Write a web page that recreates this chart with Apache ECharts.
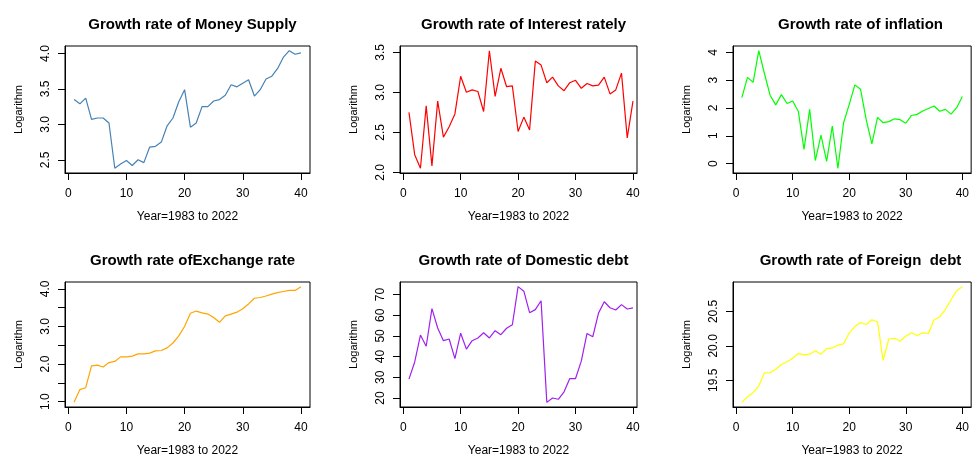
<!DOCTYPE html>
<html>
<head>
<meta charset="utf-8">
<script src="https://cdn.jsdelivr.net/npm/echarts@6/dist/echarts.min.js"></script>
<style>
  html, body { margin: 0; padding: 0; background: #fff; }
  #chart { width: 972px; height: 458px; }
</style>
</head>
<body>
<div id="chart"></div>
<script>
// Observation index (1 = 1983 ... 40 = 2022)
const years = [1,2,3,4,5,6,7,8,9,10,11,12,13,14,15,16,17,18,19,20,
               21,22,23,24,25,26,27,28,29,30,31,32,33,34,35,36,37,38,39,40];

const moneySupply = [3.35,3.29,3.37,3.07,3.09,3.09,3.02,2.38,2.44,2.49,
                     2.42,2.50,2.46,2.68,2.69,2.75,2.98,3.09,3.32,3.49,
                     2.96,3.02,3.25,3.25,3.33,3.35,3.41,3.56,3.53,3.58,
                     3.63,3.40,3.49,3.64,3.68,3.79,3.95,4.04,3.99,4.01];

const interestRate = [2.75,2.22,2.05,2.83,2.08,2.89,2.44,2.57,2.73,3.20,
                      3.00,3.03,3.01,2.76,3.52,2.95,3.30,3.07,3.08,2.51,
                      2.69,2.53,3.39,3.34,3.12,3.19,3.08,3.02,3.12,3.15,
                      3.05,3.11,3.08,3.09,3.19,2.98,3.03,3.24,2.43,2.89];

const inflation = [2.37,3.10,2.92,4.06,3.24,2.46,2.11,2.48,2.16,2.25,
                   1.87,0.51,1.95,0.11,1.02,0.08,1.35,-0.17,1.47,2.13,
                   2.83,2.67,1.58,0.71,1.66,1.47,1.51,1.61,1.58,1.45,
                   1.73,1.77,1.89,1.98,2.07,1.88,1.95,1.78,2.01,2.41];

const exchangeRate = [0.98,1.32,1.37,1.95,1.97,1.92,2.04,2.07,2.19,2.19,
                      2.21,2.27,2.27,2.29,2.35,2.36,2.43,2.56,2.75,3.00,
                      3.35,3.41,3.36,3.33,3.24,3.11,3.28,3.33,3.38,3.47,
                      3.60,3.75,3.77,3.81,3.86,3.90,3.93,3.96,3.96,4.06];

const domesticDebt = [29.1,37.4,50.4,45.0,63.2,53.8,47.7,48.5,39.0,51.3,
                      43.6,47.7,49.0,51.5,49.0,52.5,50.6,53.7,55.4,73.8,
                      71.6,61.2,62.7,67.0,17.9,20.0,19.4,23.0,29.4,29.4,
                      37.8,51.2,49.6,61.0,66.5,63.6,62.5,65.1,63.0,63.5];

const foreignDebt = [19.18,19.26,19.32,19.42,19.61,19.61,19.66,19.73,19.77,19.82,
                     19.89,19.87,19.88,19.93,19.88,19.96,19.97,20.01,20.03,20.19,
                     20.28,20.34,20.31,20.38,20.35,19.79,20.10,20.11,20.07,20.14,
                     20.19,20.15,20.19,20.18,20.38,20.42,20.53,20.67,20.80,20.86];

// Tick positions
const xTicks = [0, 10, 20, 30, 40];
const ticksMoney = [2.5, 3.0, 3.5, 4.0];
const ticksInterest = [2.0, 2.5, 3.0, 3.5];
const ticksInflation = [0, 1, 2, 3, 4];
const ticksExchange = [1.0, 1.5, 2.0, 2.5, 3.0, 3.5, 4.0];
const labelsExchange = [1.0, 2.0, 3.0, 4.0];
const ticksDomestic = [20, 30, 40, 50, 60, 70];
const ticksForeign = [19.5, 20.0, 20.5];

const titles = [
  'Growth rate of Money Supply',
  'Growth rate of Interest rately',
  'Growth rate of inflation',
  'Growth rate ofExchange rate',
  'Growth rate of Domestic debt',
  'Growth rate of Foreign  debt'
];
const xTitle = 'Year=1983 to 2022';
const yTitle = 'Logarithm';

const panels = [
  { data: moneySupply,  color: '#4682B4', ticks: ticksMoney,     labels: ticksMoney,     dec: 1, left: 65,  top: 46,  width: 245, xMax: 41.56 },
  { data: interestRate, color: '#FF0000', ticks: ticksInterest,  labels: ticksInterest,  dec: 1, left: 400, top: 46,  width: 237, xMax: 40.7 },
  { data: inflation,    color: '#00FF00', ticks: ticksInflation, labels: ticksInflation, dec: 0, left: 733, top: 46,  width: 245, xMax: 41.56 },
  { data: exchangeRate, color: '#FFA500', ticks: ticksExchange,  labels: labelsExchange, dec: 1, left: 65,  top: 282, width: 245, xMax: 41.56 },
  { data: domesticDebt, color: '#A020F0', ticks: ticksDomestic,  labels: ticksDomestic,  dec: 0, left: 400, top: 282, width: 237, xMax: 40.7 },
  { data: foreignDebt,  color: '#FFFF00', ticks: ticksForeign,   labels: ticksForeign,   dec: 1, left: 733, top: 282, width: 245, xMax: 41.56 }
];

const boxH = 127;
const textColor = '#000';
const font = 'Liberation Sans, Arial, Helvetica, sans-serif';

const grid = [], xAxis = [], yAxis = [], series = [], title = [];

panels.forEach((p, i) => {
  // y range padded by 4% on each side, as base graphics does
  const lo = Math.min(...p.data), hi = Math.max(...p.data);
  const pad = (hi - lo) * 0.04;

  grid.push({
    left: p.left, top: p.top, width: p.width, height: boxH,
    show: true, borderColor: '#000', borderWidth: 1, backgroundColor: 'transparent'
  });

  title.push({
    text: titles[i],
    left: p.left + p.width / 2,
    top: p.top - 34,
    textAlign: 'center',
    textStyle: { fontFamily: font, fontSize: 15, fontWeight: 'bold', color: textColor }
  });

  xAxis.push({
    type: 'value', gridIndex: i, min: -0.56, max: p.xMax,
    name: xTitle, nameLocation: 'middle', nameGap: 38,
    nameTextStyle: { fontFamily: font, fontSize: 12, color: textColor },
    axisLine: { show: true, onZero: false, lineStyle: { color: '#000', width: 1 } },
    axisTick: { show: true, length: 7, customValues: xTicks, lineStyle: { color: '#000' } },
    axisLabel: { customValues: xTicks, margin: 15, fontFamily: font, fontSize: 12, color: textColor },
    splitLine: { show: false }
  });

  yAxis.push({
    type: 'value', gridIndex: i, min: lo - pad, max: hi + pad,
    name: yTitle, nameLocation: 'middle', nameGap: 41,
    nameTextStyle: { fontFamily: font, fontSize: 11, color: textColor },
    axisLine: { show: true, onZero: false, lineStyle: { color: '#000', width: 1 } },
    axisTick: { show: true, length: 7, customValues: p.ticks, lineStyle: { color: '#000' } },
    axisLabel: {
      customValues: p.labels, rotate: 90, margin: 13,
      fontFamily: font, fontSize: 12, color: textColor,
      formatter: v => Number(v).toFixed(p.dec)
    },
    splitLine: { show: false }
  });

  series.push({
    type: 'line', xAxisIndex: i, yAxisIndex: i,
    data: years.map((yr, k) => [yr, p.data[k]]),
    showSymbol: false, symbol: 'none', smooth: false,
    lineStyle: { color: p.color, width: 1.2 },
    animation: false
  });
});

const chart = echarts.init(document.getElementById('chart'), null, { renderer: 'canvas' });
chart.setOption({
  backgroundColor: '#fff',
  animation: false,
  title, grid, xAxis, yAxis, series
});
</script>
</body>
</html>
